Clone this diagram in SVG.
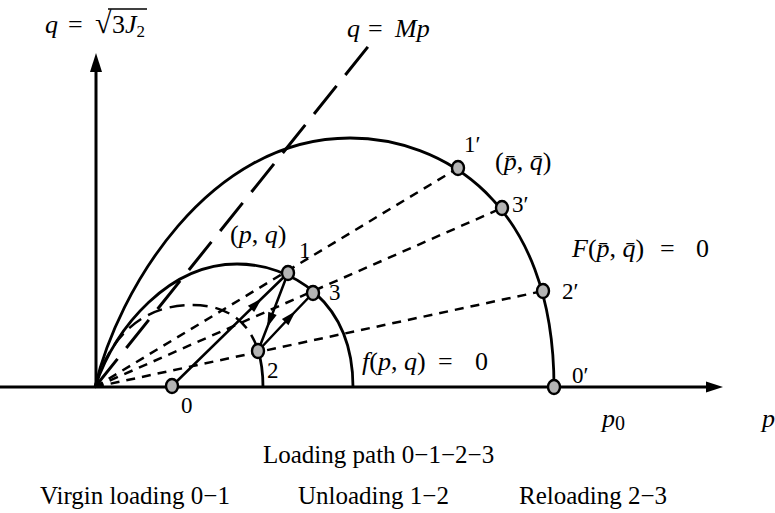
<svg xmlns="http://www.w3.org/2000/svg" width="775" height="513" viewBox="0 0 775 513">
<defs>
<style>
text { font-family: "Liberation Serif", "Times New Roman", serif; fill: #000; }
.m { font-size: 26px; }
.i { font-style: italic; }
.lbl { font-size: 23px; }
.cap { font-size: 25px; }
.axis { stroke: #000; stroke-width: 3; fill: none; }
.curve { stroke: #000; stroke-width: 2.8; fill: none; }
.mp { stroke: #000; stroke-width: 3; fill: none; stroke-dasharray: 36 14; }
.ell { stroke: #000; stroke-width: 2.5; fill: none; stroke-dasharray: 15 8; }
.dot { stroke: #000; stroke-width: 2.5; fill: none; stroke-dasharray: 9 7; }
.path { stroke: #000; stroke-width: 2.5; fill: none; marker-mid: url(#ah); }
.pt { fill: #b4b4b4; stroke: #000; stroke-width: 2.4; }
</style>
<marker id="ah" markerUnits="userSpaceOnUse" viewBox="-8 -5 16 10" refX="0" refY="0" markerWidth="16" markerHeight="10" orient="auto">
<path d="M-7,-4.5 L8,0 L-7,4.5 Z" fill="#000"/>
</marker>
</defs>

<g id="axes">
<line class="axis" x1="0" y1="387" x2="710" y2="387"/>
<path d="M723,387 L706,381.5 L706,392.5 Z" fill="#000"/>
<line class="axis" x1="96" y1="388" x2="96" y2="68"/>
<path d="M96,53 L90,72 L102,72 Z" fill="#000"/>
</g>

<g id="connectors">
<path class="mp" d="M95,387 L371,43"/>
<path class="curve" d="M95,387 C118,290 208,138 350,138 C440,138 554,200 554,387"/>
<path class="curve" d="M95,387 C116,325 170,264 237,264 C290,264 353,300 353,387"/>
<path class="ell" d="M95,387 C108,340 140,305 192,305 C224.25,305 248.06,319.06 257.95,350.14"/>
<path class="curve" d="M257.95,350.14 C261.25,360.5 263,372.75 263,387"/>
<path class="dot" d="M95,387 L458,168"/>
<path class="dot" d="M95,387 L502,208"/>
<path class="dot" d="M95,387 L543,291"/>
<path class="path" d="M172,386 L256,304 L288,273"/>
<path class="path" d="M288,273 L270,320 L258,351"/>
<path class="path" d="M258,351 L290,317 L313,293"/>
</g>

<g id="p0"><ellipse class="pt" cx="172" cy="386" rx="6" ry="7"/><text class="lbl" x="181" y="413">0</text></g>
<g id="p1"><ellipse class="pt" cx="288" cy="273" rx="6" ry="7"/><text class="lbl" x="299" y="258">1</text></g>
<g id="p2"><ellipse class="pt" cx="258" cy="351" rx="6" ry="7"/><text class="lbl" x="267" y="378">2</text></g>
<g id="p3"><ellipse class="pt" cx="313" cy="293" rx="6" ry="7"/><text class="lbl" x="329" y="300">3</text></g>
<g id="p0p"><ellipse class="pt" cx="554" cy="387" rx="6" ry="7"/><text class="lbl" x="572" y="383">0′</text></g>
<g id="p1p"><ellipse class="pt" cx="458" cy="168" rx="6" ry="7"/><text class="lbl" x="464" y="152">1′</text></g>
<g id="p2p"><ellipse class="pt" cx="543" cy="291" rx="6" ry="7"/><text class="lbl" x="562" y="299">2′</text></g>
<g id="p3p"><ellipse class="pt" cx="502" cy="208" rx="6" ry="7"/><text class="lbl" x="512" y="212">3′</text></g>

<g id="labels">
<text class="m" x="45" y="33"><tspan class="i">q</tspan><tspan x="68">=</tspan><tspan x="95" font-size="30">√</tspan><tspan x="112">3</tspan><tspan class="i">J</tspan><tspan font-size="17" dy="4">2</tspan></text>
<line x1="108" y1="9" x2="147" y2="9" stroke="#000" stroke-width="1.5"/>
<text class="m" x="347" y="37"><tspan class="i">q</tspan><tspan x="368">=</tspan><tspan x="395" class="i">Mp</tspan></text>
<text class="m" x="230" y="243">(<tspan class="i">p</tspan>, <tspan class="i">q</tspan>)</text>
<text class="m" x="495" y="170">(<tspan class="i">p̄</tspan>, <tspan class="i">q̄</tspan>)</text>
<text class="m" x="572" y="257"><tspan class="i">F</tspan>(<tspan class="i">p̄</tspan>, <tspan class="i">q̄</tspan>)<tspan x="660">=</tspan><tspan x="696">0</tspan></text>
<text class="m" x="362" y="370"><tspan class="i">f</tspan>(<tspan class="i">p</tspan>, <tspan class="i">q</tspan>)<tspan x="438">=</tspan><tspan x="475">0</tspan></text>
<text class="m" x="602" y="427"><tspan class="i">p</tspan><tspan font-size="20" dy="3">0</tspan></text>
<text class="m i" x="762" y="427">p</text>
<text class="cap" x="263" y="463">Loading path 0−1−2−3</text>
<text class="cap" x="40" y="504">Virgin loading 0−1</text>
<text class="cap" x="298" y="504">Unloading 1−2</text>
<text class="cap" x="519" y="504">Reloading 2−3</text>
</g>
</svg>
